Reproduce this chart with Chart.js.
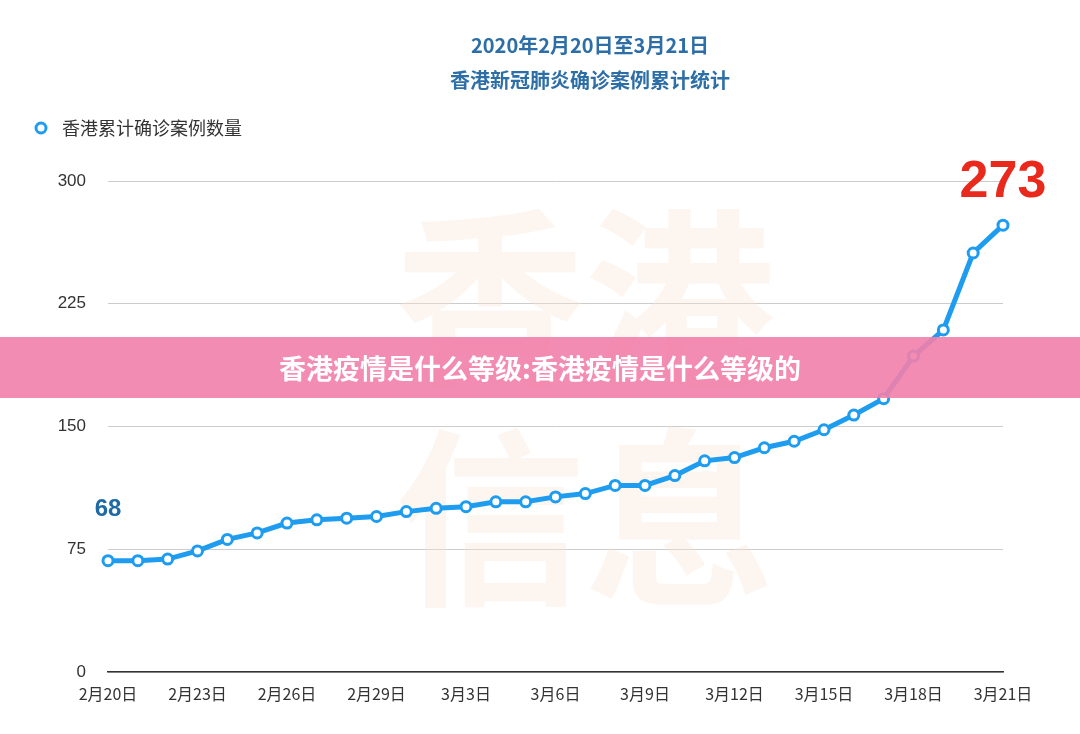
<!DOCTYPE html>
<html><head><meta charset="utf-8">
<script src="https://cdn.jsdelivr.net/npm/chart.js@4"></script>
<style>
body{margin:0;background:#fff;font-family:"Noto Sans CJK SC",sans-serif;}
#wrap{position:relative;width:1080px;height:734px;}
#banner{position:absolute;left:0;top:337px;width:1080px;height:61px;background:rgba(242,128,170,0.9);color:#fff;font:bold 27px "Noto Sans CJK SC";text-align:center;line-height:61px;}
</style></head><body>
<div id="wrap"><canvas id="c" width="1080" height="734"></canvas>
<div id="banner">香港疫情是什么等级:香港疫情是什么等级的</div></div>
<script>
const dates = ["2月20日","2月21日","2月22日","2月23日","2月24日","2月25日","2月26日","2月27日","2月28日","2月29日",
  "3月1日","3月2日","3月3日","3月4日","3月5日","3月6日","3月7日","3月8日","3月9日","3月10日",
  "3月11日","3月12日","3月13日","3月14日","3月15日","3月16日","3月17日","3月18日","3月19日","3月20日","3月21日"];
const cases = [68,68,69,74,81,85,91,93,94,95,98,100,101,104,104,107,109,114,114,120,129,131,137,141,148,157,167,193,209,256,273];
const titleLines = ["2020年2月20日至3月21日","香港新冠肺炎确诊案例累计统计"];
const legendText = "香港累计确诊案例数量";
const blue = "#1e9cf0";

// title, legend, watermark and end labels
const decor = {
  id: "decor",
  beforeDatasetsDraw(chart) {
    const ctx = chart.ctx;
    ctx.save();
    ctx.fillStyle = "rgba(250,225,210,0.35)";
    ctx.font = "bold 190px 'Noto Sans CJK SC'";
    ctx.textAlign = "center";
    ctx.fillText("香港", 585, 370);
    ctx.fillText("信息", 585, 590);
    ctx.restore();
  },
  afterDraw(chart) {
    const ctx = chart.ctx;
    ctx.save();
    ctx.textAlign = "center";
    ctx.fillStyle = "#2d6ea6";
    ctx.font = "bold 20px 'Noto Sans CJK SC'";
    ctx.fillText(titleLines[0], 590, 53);
    ctx.fillText(titleLines[1], 590, 88);
    ctx.textAlign = "left";
    ctx.fillStyle = "#333";
    ctx.font = "18px 'Noto Sans CJK SC'";
    ctx.fillText(legendText, 62, 135);
    ctx.beginPath();
    ctx.arc(41, 128, 5, 0, Math.PI * 2);
    ctx.lineWidth = 3; ctx.strokeStyle = blue; ctx.fillStyle = "#fff";
    ctx.fill(); ctx.stroke();
    const meta = chart.getDatasetMeta(0).data;
    const first = meta[0], last = meta[meta.length - 1];
    ctx.textAlign = "center";
    ctx.fillStyle = "#1f6aa5";
    ctx.font = "bold 24px 'Liberation Sans'";
    ctx.fillText(String(cases[0]), first.x, first.y - 45);
    ctx.fillStyle = "#e8291c";
    ctx.font = "bold 52px 'Liberation Sans'";
    ctx.fillText(String(cases[cases.length - 1]), last.x, last.y - 28);
    ctx.restore();
  }
};

new Chart(document.getElementById("c"), {
  type: "line",
  data: { labels: dates, datasets: [{
    data: cases, borderColor: blue, borderWidth: 5,
    pointRadius: 5, pointBorderWidth: 3, pointBackgroundColor: "#fff", pointBorderColor: blue
  }]},
  options: {
    responsive: false, animation: false,
    layout: { padding: { top: 181, right: 77, left: 0, bottom: 0 } },
    plugins: { legend: { display: false }, tooltip: { enabled: false } },
    scales: {
      x: {
        grid: { display: false, drawTicks: false },
        border: { color: "#333", width: 1.5 },
        afterFit(s) { s.height = 62; },
        ticks: { autoSkip: false, maxRotation: 0, color: "#333", padding: 12,
          font: { size: 16, family: "'Noto Sans CJK SC'" },
          callback(v, i) { return i % 3 === 0 ? dates[i] : ""; } }
      },
      y: {
        min: 0, max: 300,
        afterFit(s) { s.width = 108; },
        grid: { color: "#ccc", drawTicks: false },
        border: { display: false },
        ticks: { stepSize: 75, color: "#333", padding: 22, font: { size: 17, family: "'Liberation Sans'" } }
      }
    }
  },
  plugins: [decor]
});
</script></body></html>
